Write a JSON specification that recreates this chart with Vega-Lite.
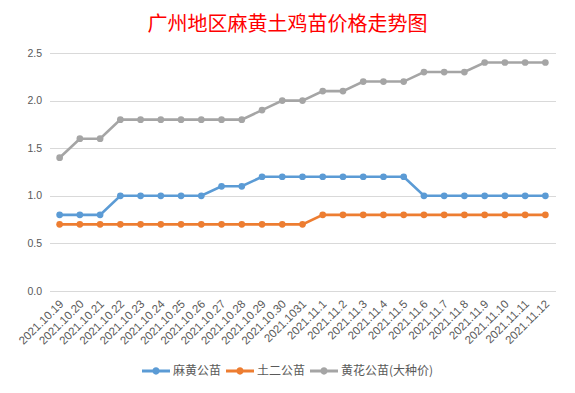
{
  "$schema": "https://vega.github.io/schema/vega-lite/v6.json",
  "autosize": {"type": "none"},
  "width": 506,
  "height": 238,
  "padding": {"left": 49.5, "top": 53, "right": 19.5, "bottom": 102},
  "background": "white",
  "title": {
    "text": "广州地区麻黄土鸡苗价格走势图",
    "color": "#FF0000",
    "font": "Noto Sans CJK SC",
    "fontSize": 20,
    "fontWeight": "normal",
    "anchor": "middle",
    "dx": -15,
    "offset": 13
  },
  "config": {
    "view": {"stroke": null},
    "axis": {
      "labelColor": "#595959",
      "labelFont": "Liberation Sans",
      "labelFontSize": 10.5,
      "gridColor": "#D9D9D9",
      "domainColor": "#D9D9D9",
      "ticks": false
    }
  },
  "data": {
    "values": [
      {"date": "2021.10.19", "series": "麻黄公苗", "price": 0.8},
      {"date": "2021.10.20", "series": "麻黄公苗", "price": 0.8},
      {"date": "2021.10.21", "series": "麻黄公苗", "price": 0.8},
      {"date": "2021.10.22", "series": "麻黄公苗", "price": 1.0},
      {"date": "2021.10.23", "series": "麻黄公苗", "price": 1.0},
      {"date": "2021.10.24", "series": "麻黄公苗", "price": 1.0},
      {"date": "2021.10.25", "series": "麻黄公苗", "price": 1.0},
      {"date": "2021.10.26", "series": "麻黄公苗", "price": 1.0},
      {"date": "2021.10.27", "series": "麻黄公苗", "price": 1.1},
      {"date": "2021.10.28", "series": "麻黄公苗", "price": 1.1},
      {"date": "2021.10.29", "series": "麻黄公苗", "price": 1.2},
      {"date": "2021.10.30", "series": "麻黄公苗", "price": 1.2},
      {"date": "2021.1031", "series": "麻黄公苗", "price": 1.2},
      {"date": "2021.11.1", "series": "麻黄公苗", "price": 1.2},
      {"date": "2021.11.2", "series": "麻黄公苗", "price": 1.2},
      {"date": "2021.11.3", "series": "麻黄公苗", "price": 1.2},
      {"date": "2021.11.4", "series": "麻黄公苗", "price": 1.2},
      {"date": "2021.11.5", "series": "麻黄公苗", "price": 1.2},
      {"date": "2021.11.6", "series": "麻黄公苗", "price": 1.0},
      {"date": "2021.11.7", "series": "麻黄公苗", "price": 1.0},
      {"date": "2021.11.8", "series": "麻黄公苗", "price": 1.0},
      {"date": "2021.11.9", "series": "麻黄公苗", "price": 1.0},
      {"date": "2021.11.10", "series": "麻黄公苗", "price": 1.0},
      {"date": "2021.11.11", "series": "麻黄公苗", "price": 1.0},
      {"date": "2021.11.12", "series": "麻黄公苗", "price": 1.0},
      {"date": "2021.10.19", "series": "土二公苗", "price": 0.7},
      {"date": "2021.10.20", "series": "土二公苗", "price": 0.7},
      {"date": "2021.10.21", "series": "土二公苗", "price": 0.7},
      {"date": "2021.10.22", "series": "土二公苗", "price": 0.7},
      {"date": "2021.10.23", "series": "土二公苗", "price": 0.7},
      {"date": "2021.10.24", "series": "土二公苗", "price": 0.7},
      {"date": "2021.10.25", "series": "土二公苗", "price": 0.7},
      {"date": "2021.10.26", "series": "土二公苗", "price": 0.7},
      {"date": "2021.10.27", "series": "土二公苗", "price": 0.7},
      {"date": "2021.10.28", "series": "土二公苗", "price": 0.7},
      {"date": "2021.10.29", "series": "土二公苗", "price": 0.7},
      {"date": "2021.10.30", "series": "土二公苗", "price": 0.7},
      {"date": "2021.1031", "series": "土二公苗", "price": 0.7},
      {"date": "2021.11.1", "series": "土二公苗", "price": 0.8},
      {"date": "2021.11.2", "series": "土二公苗", "price": 0.8},
      {"date": "2021.11.3", "series": "土二公苗", "price": 0.8},
      {"date": "2021.11.4", "series": "土二公苗", "price": 0.8},
      {"date": "2021.11.5", "series": "土二公苗", "price": 0.8},
      {"date": "2021.11.6", "series": "土二公苗", "price": 0.8},
      {"date": "2021.11.7", "series": "土二公苗", "price": 0.8},
      {"date": "2021.11.8", "series": "土二公苗", "price": 0.8},
      {"date": "2021.11.9", "series": "土二公苗", "price": 0.8},
      {"date": "2021.11.10", "series": "土二公苗", "price": 0.8},
      {"date": "2021.11.11", "series": "土二公苗", "price": 0.8},
      {"date": "2021.11.12", "series": "土二公苗", "price": 0.8},
      {"date": "2021.10.19", "series": "黄花公苗(大种价)", "price": 1.4},
      {"date": "2021.10.20", "series": "黄花公苗(大种价)", "price": 1.6},
      {"date": "2021.10.21", "series": "黄花公苗(大种价)", "price": 1.6},
      {"date": "2021.10.22", "series": "黄花公苗(大种价)", "price": 1.8},
      {"date": "2021.10.23", "series": "黄花公苗(大种价)", "price": 1.8},
      {"date": "2021.10.24", "series": "黄花公苗(大种价)", "price": 1.8},
      {"date": "2021.10.25", "series": "黄花公苗(大种价)", "price": 1.8},
      {"date": "2021.10.26", "series": "黄花公苗(大种价)", "price": 1.8},
      {"date": "2021.10.27", "series": "黄花公苗(大种价)", "price": 1.8},
      {"date": "2021.10.28", "series": "黄花公苗(大种价)", "price": 1.8},
      {"date": "2021.10.29", "series": "黄花公苗(大种价)", "price": 1.9},
      {"date": "2021.10.30", "series": "黄花公苗(大种价)", "price": 2.0},
      {"date": "2021.1031", "series": "黄花公苗(大种价)", "price": 2.0},
      {"date": "2021.11.1", "series": "黄花公苗(大种价)", "price": 2.1},
      {"date": "2021.11.2", "series": "黄花公苗(大种价)", "price": 2.1},
      {"date": "2021.11.3", "series": "黄花公苗(大种价)", "price": 2.2},
      {"date": "2021.11.4", "series": "黄花公苗(大种价)", "price": 2.2},
      {"date": "2021.11.5", "series": "黄花公苗(大种价)", "price": 2.2},
      {"date": "2021.11.6", "series": "黄花公苗(大种价)", "price": 2.3},
      {"date": "2021.11.7", "series": "黄花公苗(大种价)", "price": 2.3},
      {"date": "2021.11.8", "series": "黄花公苗(大种价)", "price": 2.3},
      {"date": "2021.11.9", "series": "黄花公苗(大种价)", "price": 2.4},
      {"date": "2021.11.10", "series": "黄花公苗(大种价)", "price": 2.4},
      {"date": "2021.11.11", "series": "黄花公苗(大种价)", "price": 2.4},
      {"date": "2021.11.12", "series": "黄花公苗(大种价)", "price": 2.4}
    ]
  },
  "encoding": {
    "x": {
      "field": "date",
      "type": "ordinal",
      "sort": null,
      "scale": {"type": "point", "padding": 0.5},
      "axis": {
        "title": null,
        "labelAngle": -45,
        "labelAlign": "right",
        "labelBaseline": "middle",
        "labelPadding": 11,
        "labelOffset": 2,
        "labelFontSize": 11.5,
        "grid": false
      }
    },
    "y": {
      "field": "price",
      "type": "quantitative",
      "scale": {"domain": [0, 2.5], "nice": false, "zero": true},
      "axis": {
        "title": null,
        "values": [0, 0.5, 1, 1.5, 2, 2.5],
        "format": ".1f",
        "domain": false,
        "labelPadding": 8
      }
    },
    "color": {
      "field": "series",
      "type": "nominal",
      "scale": {
        "domain": ["麻黄公苗", "土二公苗", "黄花公苗(大种价)"],
        "range": ["#5B9BD5", "#ED7D31", "#A5A5A5"]
      },
      "legend": {
        "title": null,
        "orient": "none",
        "direction": "horizontal",
        "legendX": 92.5,
        "legendY": 304,
        "symbolType": "M-1,-0.11 H1 V0.11 H-1 Z M-0.26,0 A0.26,0.26 0 1,1 0.26,0 A0.26,0.26 0 1,1 -0.26,0 Z",
        "symbolSize": 784,
        "symbolStrokeWidth": 0,
        "symbolOpacity": 1,
        "labelFont": "Noto Sans CJK SC",
        "labelFontSize": 12,
        "labelColor": "#595959",
        "labelOffset": 3,
        "columnPadding": 4
      }
    }
  },
  "layer": [
    {"mark": {"type": "line", "strokeWidth": 2.6}},
    {"mark": {"type": "point", "filled": true, "size": 45, "opacity": 1}}
  ]
}
